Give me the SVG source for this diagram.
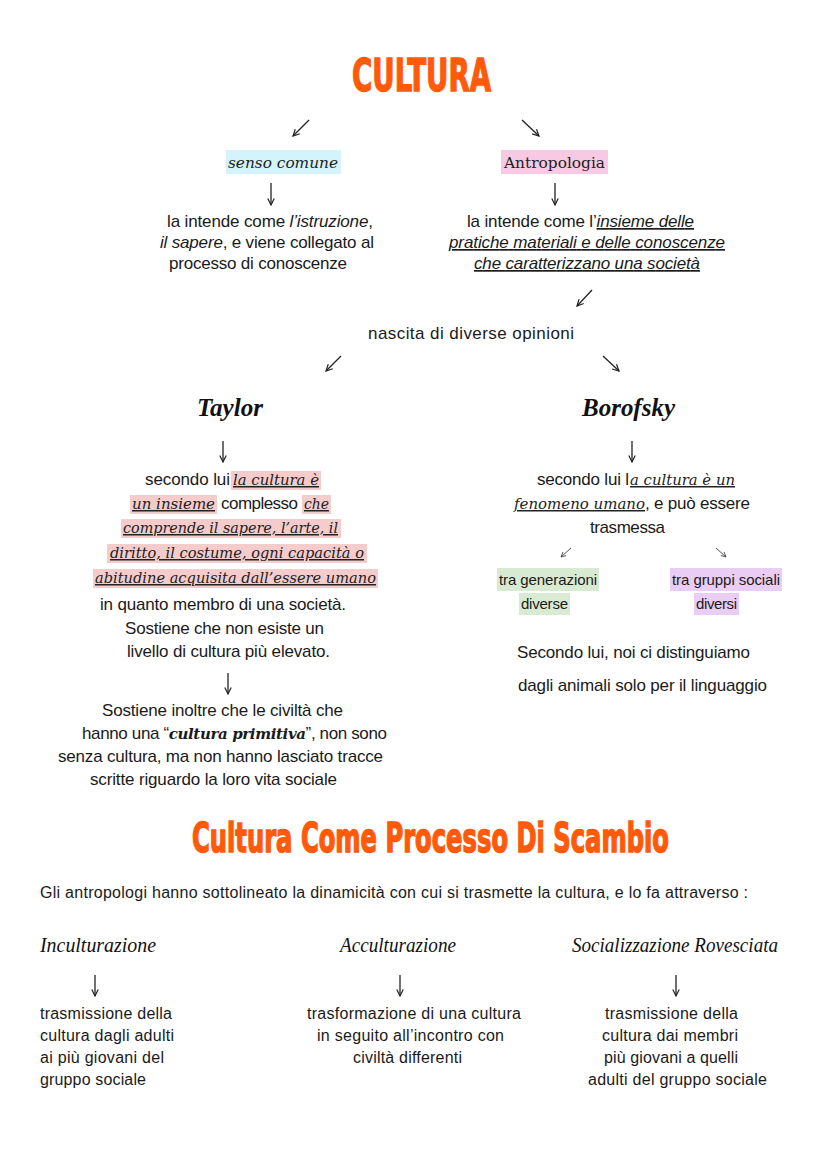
<svg xmlns="http://www.w3.org/2000/svg" width="828" height="1169" viewBox="0 0 828 1169">
<style>
.bg{fill:#ffffff}
.t{font-family:"Liberation Sans",Arial,sans-serif;font-size:17px;fill:#1a1a1a}
.b{font-family:"Liberation Sans",Arial,sans-serif;font-size:16px;fill:#1a1a1a}
.s15{font-size:15px}
.it{font-style:italic}
.ul{text-decoration:underline}
.sr{font-family:"DejaVu Serif","Liberation Serif",serif;font-size:15px;font-style:italic;fill:#222}
.sru{font-family:"DejaVu Serif","Liberation Serif",serif;font-size:15px;fill:#222}
.ttl{font-family:"DejaVu Sans Condensed","Liberation Sans Narrow","Liberation Sans",sans-serif;font-weight:bold;fill:#ff5a0a;stroke:#ff5a0a;stroke-width:1.2}
.scr{font-family:"Liberation Serif",serif;font-style:italic;font-weight:bold;font-size:26px;fill:#111}
.hand{font-family:"Liberation Serif",serif;font-style:italic;font-size:20px;fill:#111}
.pk{fill:#f4cccc}
.cn{fill:none;stroke:#222;stroke-width:1.3}
.cs{fill:none;stroke:#555;stroke-width:1}
</style>
<defs>
<marker id="ah" viewBox="0 0 10 10" refX="9" refY="5" markerWidth="8" markerHeight="8" markerUnits="userSpaceOnUse" orient="auto"><path d="M1,1 L9,5 L1,9" fill="none" stroke="#222" stroke-width="1.5"/></marker>
<marker id="ahs" viewBox="0 0 10 10" refX="9" refY="5" markerWidth="6" markerHeight="6" markerUnits="userSpaceOnUse" orient="auto"><path d="M1,1 L9,5 L1,9" fill="none" stroke="#555" stroke-width="1.5"/></marker>
</defs>
<rect class="bg" x="0" y="0" width="828" height="1169"/>

<g id="connectors">
<path class="cn" d="M309,120 L293,136" marker-end="url(#ah)"/>
<path class="cn" d="M522,120 L539,136" marker-end="url(#ah)"/>
<path class="cn" d="M271,183 L271,205" marker-end="url(#ah)"/>
<path class="cn" d="M555,183 L555,205" marker-end="url(#ah)"/>
<path class="cn" d="M592,290 L577,306" marker-end="url(#ah)"/>
<path class="cn" d="M341,356 L326,371" marker-end="url(#ah)"/>
<path class="cn" d="M603,356 L619,371" marker-end="url(#ah)"/>
<path class="cn" d="M223,441 L223,462" marker-end="url(#ah)"/>
<path class="cn" d="M632,441 L632,462" marker-end="url(#ah)"/>
<path class="cn" d="M228,673 L228,694" marker-end="url(#ah)"/>
<path class="cs" d="M571,548 L561,557" marker-end="url(#ahs)"/>
<path class="cs" d="M716,548 L726,557" marker-end="url(#ahs)"/>
<path class="cn" d="M95,975 L95,996" marker-end="url(#ah)"/>
<path class="cn" d="M400,975 L400,996" marker-end="url(#ah)"/>
<path class="cn" d="M676,975 L676,996" marker-end="url(#ah)"/>
</g>

<g id="title">
<text class="ttl" transform="translate(352,91) scale(1,1.12)" x="0" y="0" font-size="40" textLength="139" lengthAdjust="spacingAndGlyphs">CULTURA</text>
</g>

<g id="senso-comune">
<rect x="226" y="150" width="115" height="24" fill="#d4f4fb"/>
<text class="sr" x="228" y="168" font-size="17" textLength="110" lengthAdjust="spacingAndGlyphs">senso comune</text>
</g>

<g id="antropologia">
<rect x="501" y="150" width="107" height="24" fill="#f7c9e3"/>
<text class="sru" x="504" y="168" font-size="17" textLength="101" lengthAdjust="spacingAndGlyphs">Antropologia</text>
</g>

<g id="senso-comune-def">
<text class="t" x="167" y="227" textLength="206">la intende come <tspan class="it">l’istruzione</tspan>,</text>
<text class="t" x="160" y="248" textLength="214"><tspan class="it">il sapere</tspan>, e viene collegato al</text>
<text class="t" x="169" y="269" textLength="178">processo di conoscenze</text>
</g>

<g id="antropologia-def">
<text class="t" x="467" y="227" textLength="227">la intende come l’<tspan class="it ul">insieme delle</tspan></text>
<text class="t it ul" x="449" y="248" textLength="276">pratiche materiali e delle conoscenze</text>
<text class="t it ul" x="474" y="269" textLength="226">che caratterizzano una società</text>
</g>

<g id="nascita">
<text class="t" x="368" y="339" textLength="206">nascita di diverse opinioni</text>
</g>

<g id="taylor">
<text class="scr" x="197" y="416" textLength="66" lengthAdjust="spacingAndGlyphs">Taylor</text>
</g>

<g id="taylor-def">
<rect class="pk" x="231" y="471" width="90" height="19"/>
<rect class="pk" x="130" y="495" width="87" height="19"/>
<rect class="pk" x="302" y="495" width="29" height="19"/>
<rect class="pk" x="121" y="519" width="220" height="19"/>
<rect class="pk" x="107" y="544" width="260" height="19"/>
<rect class="pk" x="93" y="569" width="285" height="19"/>
<text class="t" x="145" y="485" textLength="85">secondo lui</text>
<text class="sr ul" x="233" y="485" textLength="86" lengthAdjust="spacingAndGlyphs">la cultura è</text>
<text class="sr ul" x="132" y="509" textLength="83" lengthAdjust="spacingAndGlyphs">un insieme</text>
<text class="t" x="221" y="509" textLength="77">complesso</text>
<text class="sr ul" x="304" y="509" textLength="25" lengthAdjust="spacingAndGlyphs">che</text>
<text class="sr ul" x="123" y="533" textLength="215" lengthAdjust="spacingAndGlyphs">comprende il sapere, l’arte, il</text>
<text class="sr ul" x="110" y="558" textLength="254" lengthAdjust="spacingAndGlyphs">diritto, il costume, ogni capacità o</text>
<text class="sr ul" x="95" y="583" textLength="281" lengthAdjust="spacingAndGlyphs">abitudine acquisita dall’essere umano</text>
<text class="t" x="100" y="610" textLength="246">in quanto membro di una società.</text>
<text class="t" x="125" y="634" textLength="199">Sostiene che non esiste un</text>
<text class="t" x="127" y="657" textLength="203">livello di cultura più elevato.</text>
</g>

<g id="taylor-note">
<text class="t" x="102" y="716" textLength="241">Sostiene inoltre che le civiltà che</text>
<text class="t" x="82" y="739" textLength="305">hanno una “<tspan font-family="DejaVu Serif, Liberation Serif, serif" font-style="italic" font-weight="bold" font-size="15">cultura primitiva</tspan>”, non sono</text>
<text class="t" x="58" y="762" textLength="325">senza cultura, ma non hanno lasciato tracce</text>
<text class="t" x="90" y="785" textLength="247">scritte riguardo la loro vita sociale</text>
</g>

<g id="borofsky">
<text class="scr" x="582" y="416" textLength="93" lengthAdjust="spacingAndGlyphs">Borofsky</text>
</g>

<g id="borofsky-def">
<text class="t" x="537" y="485" textLength="92">secondo lui l</text>
<text class="sr ul" x="630" y="485" textLength="105" lengthAdjust="spacingAndGlyphs">a cultura è un</text>
<text class="sr ul" x="514" y="509" textLength="131" lengthAdjust="spacingAndGlyphs">fenomeno umano</text>
<text class="t" x="645" y="509" textLength="105">, e può essere</text>
<text class="t" x="590" y="533" textLength="75">trasmessa</text>
</g>

<g id="tra-generazioni">
<rect x="497" y="568" width="102" height="23" fill="#d9ead3"/>
<rect x="519" y="593" width="51" height="22" fill="#d9ead3"/>
<text class="t s15" x="499" y="585" textLength="98">tra generazioni</text>
<text class="t s15" x="521" y="609" textLength="47">diverse</text>
</g>

<g id="tra-gruppi">
<rect x="670" y="568" width="112" height="23" fill="#eacdf5"/>
<rect x="694" y="593" width="45" height="22" fill="#eacdf5"/>
<text class="t s15" x="672" y="585" textLength="108">tra gruppi sociali</text>
<text class="t s15" x="696" y="609" textLength="41">diversi</text>
</g>

<g id="borofsky-note">
<text class="t" x="517" y="658" textLength="233">Secondo lui, noi ci distinguiamo</text>
<text class="t" x="518" y="691" textLength="249">dagli animali solo per il linguaggio</text>
</g>

<g id="scambio-title">
<text class="ttl" transform="translate(192,852) scale(1,1.25)" x="0" y="0" font-size="33" textLength="477" lengthAdjust="spacingAndGlyphs">Cultura Come Processo Di Scambio</text>
</g>

<g id="scambio-intro">
<text class="b" x="40" y="898" textLength="708">Gli antropologi hanno sottolineato la dinamicità con cui si trasmette la cultura, e lo fa attraverso :</text>
</g>

<g id="inculturazione">
<text class="hand" x="40" y="952" textLength="116" lengthAdjust="spacingAndGlyphs">Inculturazione</text>
<text class="b" x="40" y="1019" textLength="132">trasmissione della</text>
<text class="b" x="40" y="1041" textLength="134">cultura dagli adulti</text>
<text class="b" x="40" y="1063" textLength="124">ai più giovani del</text>
<text class="b" x="40" y="1085" textLength="106">gruppo sociale</text>
</g>

<g id="acculturazione">
<text class="hand" x="340" y="952" textLength="116" lengthAdjust="spacingAndGlyphs">Acculturazione</text>
<text class="b" x="307" y="1019" textLength="214">trasformazione di una cultura</text>
<text class="b" x="317" y="1041" textLength="187">in seguito all’incontro con</text>
<text class="b" x="353" y="1063" textLength="109">civiltà differenti</text>
</g>

<g id="socializzazione-rovesciata">
<text class="hand" x="572" y="952" textLength="206" lengthAdjust="spacingAndGlyphs">Socializzazione Rovesciata</text>
<text class="b" x="605" y="1019" textLength="133">trasmissione della</text>
<text class="b" x="602" y="1041" textLength="136">cultura dai membri</text>
<text class="b" x="604" y="1063" textLength="134">più giovani a quelli</text>
<text class="b" x="588" y="1085" textLength="179">adulti del gruppo sociale</text>
</g>
</svg>
